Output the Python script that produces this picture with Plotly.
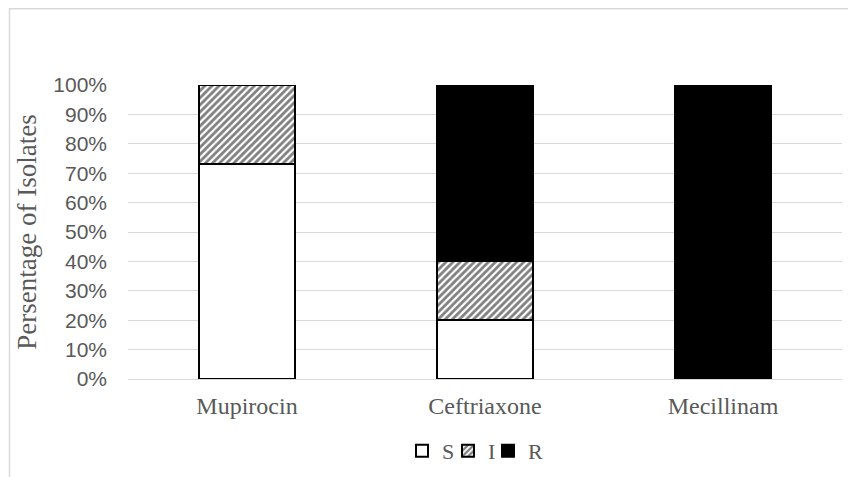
import plotly.graph_objects as go

categories = ["Mupirocin", "Ceftriaxone", "Mecillinam"]
s_values = [73, 20, 0]
i_values = [27, 20, 0]
r_values = [0, 60, 100]
y_ticks = [0, 10, 20, 30, 40, 50, 60, 70, 80, 90, 100]
y_tick_labels = [f"{v}%" for v in y_ticks]

# page body has an 8px margin; figure coordinates = page coordinates - 8
OFF = 8
W, H = 856, 477
L, R, T, B = 128 - OFF, 22, 85 - OFF, 477 - (379 - OFF)
pw, ph = W - L - R, H - T - B

serif = "Liberation Serif, Times New Roman, serif"
sans = "Liberation Sans, Arial, sans-serif"

fig = go.Figure()
fig.add_trace(go.Bar(name="S", x=categories, y=s_values, legend="legend",
                     marker=dict(color="white", line=dict(color="black", width=2))))
fig.add_trace(go.Bar(name="I", x=categories, y=i_values, legend="legend2",
                     marker=dict(color="white", line=dict(color="black", width=2),
                                 pattern=dict(shape="/", fgcolor="black", bgcolor="white",
                                              size=5, solidity=0.55))))
fig.add_trace(go.Bar(name="R", x=categories, y=r_values, legend="legend3",
                     marker=dict(color="black", line=dict(color="black", width=2))))


def leg(square_left_page):
    return dict(orientation="h", x=(square_left_page - OFF - 14 - L) / pw, xanchor="left",
                y=(H - B - (451 - OFF)) / ph, yanchor="middle",
                font=dict(family=serif, size=22, color="#595959"),
                itemwidth=30, bgcolor="rgba(0,0,0,0)")


fig.update_layout(
    width=W, height=H,
    barmode="stack", bargap=0.6,
    margin=dict(l=L, r=R, t=T, b=B, autoexpand=False),
    plot_bgcolor="white", paper_bgcolor="white",
    showlegend=True,
    legend=leg(416), legend2=leg(462), legend3=leg(502),
    xaxis=dict(showgrid=False, showline=False, ticks="", automargin=False,
               tickfont=dict(family=serif, size=24, color="#595959"),
               ticklabelstandoff=10),
    yaxis=dict(range=[0, 100], tickvals=y_ticks, ticktext=y_tick_labels,
               showgrid=True, gridcolor="#d9d9d9", gridwidth=1,
               zeroline=True, zerolinecolor="#d9d9d9", zerolinewidth=1,
               showline=False, ticks="", automargin=False,
               tickfont=dict(family=sans, size=21, color="#595959"),
               ticklabelstandoff=20,
               title=dict(text="Persentage of Isolates",
                          font=dict(family=serif, size=27, color="#595959"),
                          standoff=8)),
    shapes=[dict(type="rect", xref="paper", yref="paper",
                 x0=(1.5 - L) / pw, x1=1.5, y0=-1.0, y1=(H - B - 0.75) / ph,
                 line=dict(color="#d9d9d9", width=1.5), fillcolor="rgba(0,0,0,0)",
                 layer="below")],
)

fig.write_html("out.html")
